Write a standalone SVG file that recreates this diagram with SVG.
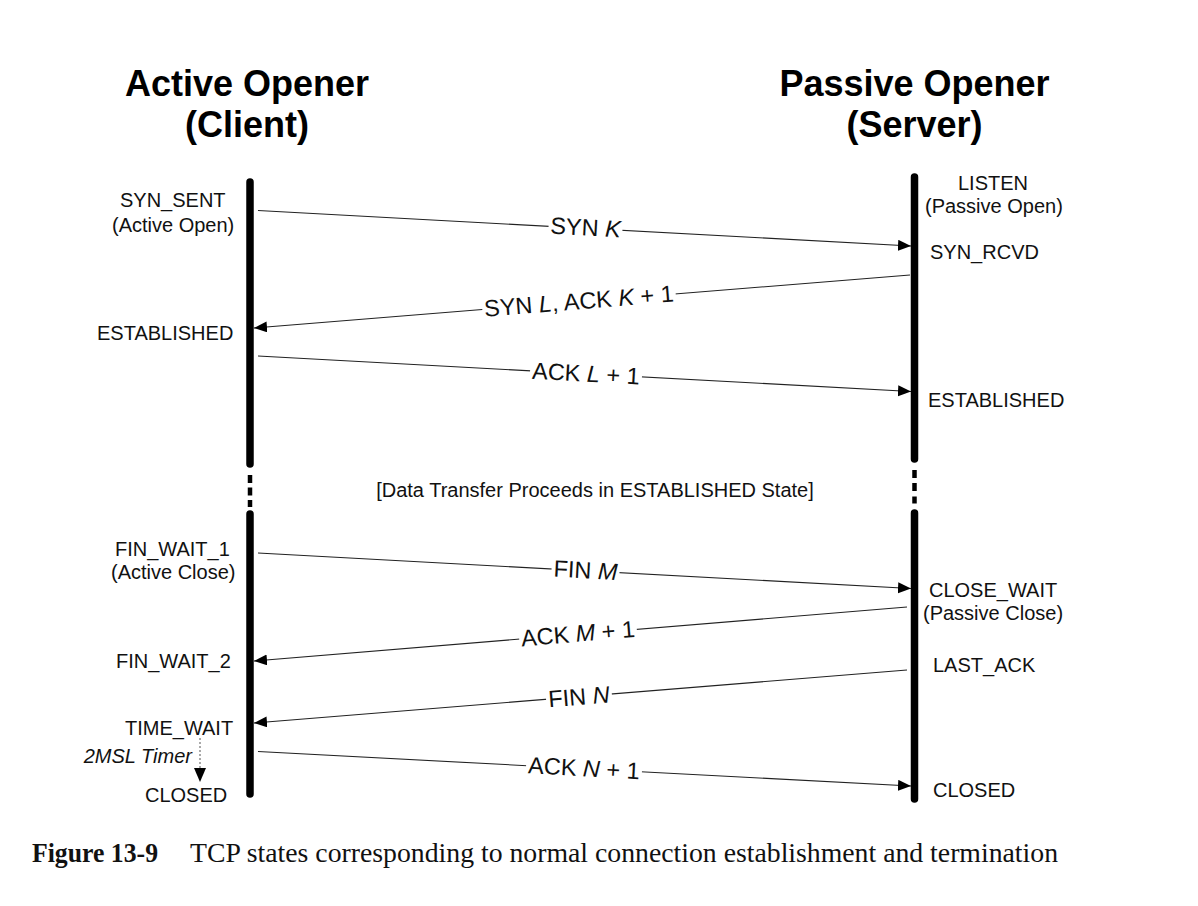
<svg xmlns="http://www.w3.org/2000/svg" width="1198" height="906" viewBox="0 0 1198 906">
  <defs>
    <style>
      .head { font-family: "Liberation Sans", Arial, sans-serif; font-weight: bold; font-size: 36px; fill: #000; text-anchor: middle; }
      .state { font-family: "Liberation Sans", Arial, sans-serif; font-size: 20px; fill: #111; }
      .msg { font-family: "Liberation Sans", Arial, sans-serif; font-size: 23.5px; fill: #111; text-anchor: middle; }
      .it { font-style: italic; }
      .life { stroke: #000; stroke-width: 7.5; stroke-linecap: round; fill: none; }
      .dots { stroke: #000; stroke-width: 4.5; fill: none; }
      .conn { stroke: #222; stroke-width: 1.1; fill: none; marker-end: url(#arrow); }
      .bg { fill: #fff; }
      .cap { font-family: "Liberation Serif", "Times New Roman", serif; font-size: 28px; fill: #111; }
    </style>
    <marker id="arrow" markerUnits="userSpaceOnUse" markerWidth="14" markerHeight="12" refX="13" refY="5.5" orient="auto">
      <path d="M0,0 L13,5.5 L0,11 Z" fill="#000"/>
    </marker>
  </defs>
  <rect width="1198" height="906" fill="#fff"/>

  <g id="client-header">
    <text class="head" x="247" y="96">Active Opener</text>
    <text class="head" x="247" y="137">(Client)</text>
  </g>
  <g id="server-header">
    <text class="head" x="914.5" y="96">Passive Opener</text>
    <text class="head" x="914.5" y="137">(Server)</text>
  </g>

  <g id="client-lifeline">
    <line class="life" x1="250" y1="182" x2="250" y2="464"/>
    <line class="dots" x1="250" y1="475" x2="250" y2="483"/>
    <line class="dots" x1="250" y1="487.5" x2="250" y2="495.5"/>
    <line class="dots" x1="250" y1="500" x2="250" y2="507"/>
    <line class="life" x1="250" y1="514" x2="250" y2="794"/>
  </g>
  <g id="server-lifeline">
    <line class="life" x1="914.5" y1="177" x2="914.5" y2="459"/>
    <line class="dots" x1="914.5" y1="470" x2="914.5" y2="478"/>
    <line class="dots" x1="914.5" y1="483" x2="914.5" y2="491"/>
    <line class="dots" x1="914.5" y1="496.5" x2="914.5" y2="503.5"/>
    <line class="life" x1="914.5" y1="513" x2="914.5" y2="799"/>
  </g>

  <g id="client-states">
    <g id="s-syn-sent"><text class="state" x="120" y="207">SYN_SENT</text><text class="state" x="112" y="232">(Active Open)</text></g>
    <g id="s-c-established"><text class="state" x="97" y="340">ESTABLISHED</text></g>
    <g id="s-fin-wait-1"><text class="state" x="115" y="556">FIN_WAIT_1</text><text class="state" x="111" y="579">(Active Close)</text></g>
    <g id="s-fin-wait-2"><text class="state" x="116" y="668">FIN_WAIT_2</text></g>
    <g id="s-time-wait"><text class="state" x="125" y="735">TIME_WAIT</text></g>
    <g id="s-c-closed"><text class="state" x="145" y="802">CLOSED</text></g>
  </g>
  <g id="server-states">
    <g id="s-listen"><text class="state" x="958" y="190">LISTEN</text><text class="state" x="925" y="213">(Passive Open)</text></g>
    <g id="s-syn-rcvd"><text class="state" x="930" y="259">SYN_RCVD</text></g>
    <g id="s-s-established"><text class="state" x="928" y="407">ESTABLISHED</text></g>
    <g id="s-close-wait"><text class="state" x="929" y="597">CLOSE_WAIT</text><text class="state" x="923" y="620">(Passive Close)</text></g>
    <g id="s-last-ack"><text class="state" x="933" y="672">LAST_ACK</text></g>
    <g id="s-s-closed"><text class="state" x="933" y="797">CLOSED</text></g>
  </g>

  <g id="data-transfer-note">
    <text class="state" x="595" y="497" text-anchor="middle">[Data Transfer Proceeds in ESTABLISHED State]</text>
  </g>

  <g id="connectors">
    <line class="conn" x1="258" y1="210.5" x2="911" y2="246"/>
    <line class="conn" x1="910" y1="275" x2="254" y2="328"/>
    <line class="conn" x1="258" y1="356" x2="911" y2="391.5"/>
    <line class="conn" x1="258" y1="553" x2="911" y2="588.5"/>
    <line class="conn" x1="907" y1="607" x2="254" y2="661"/>
    <line class="conn" x1="907" y1="670" x2="254" y2="723"/>
    <line class="conn" x1="258" y1="751.5" x2="911" y2="786"/>

    <g transform="translate(585.5,228) rotate(3.06)">
      <rect class="bg" x="-37" y="-11" width="74" height="22"/>
      <text class="msg" y="7.5">SYN <tspan class="it">K</tspan></text>
    </g>
    <g transform="translate(579,301.7) rotate(-4.61)">
      <rect class="bg" x="-97" y="-11" width="194" height="22"/>
      <text class="msg" y="7.5">SYN <tspan class="it">L</tspan>, ACK <tspan class="it">K</tspan> + 1</text>
    </g>
    <g transform="translate(586,374.1) rotate(3.15)">
      <rect class="bg" x="-56" y="-11" width="112" height="22"/>
      <text class="msg" y="7.5">ACK <tspan class="it">L</tspan> + 1</text>
    </g>
    <g transform="translate(585.5,570.8) rotate(3.11)">
      <rect class="bg" x="-34" y="-11" width="68" height="22"/>
      <text class="msg" y="7.5">FIN <tspan class="it">M</tspan></text>
    </g>
    <g transform="translate(578,634.2) rotate(-4.74)">
      <rect class="bg" x="-59" y="-11" width="118" height="22"/>
      <text class="msg" y="7.5">ACK <tspan class="it">M</tspan> + 1</text>
    </g>
    <g transform="translate(579,697.4) rotate(-4.65)">
      <rect class="bg" x="-33" y="-11" width="66" height="22"/>
      <text class="msg" y="7.5">FIN <tspan class="it">N</tspan></text>
    </g>
    <g transform="translate(584,768.7) rotate(3.02)">
      <rect class="bg" x="-58" y="-11" width="116" height="22"/>
      <text class="msg" y="7.5">ACK <tspan class="it">N</tspan> + 1</text>
    </g>

    <g id="timer">
      <line x1="200" y1="738" x2="200" y2="769" stroke="#555" stroke-width="1" stroke-dasharray="2,2"/>
      <path d="M194,768 L206,768 L200,782 Z" fill="#000"/>
      <text class="state it" x="192" y="763" text-anchor="end" font-size="19">2MSL Timer</text>
    </g>
  </g>

  <g id="caption">
    <text class="cap" x="32" y="862" font-weight="bold" textLength="126" lengthAdjust="spacingAndGlyphs">Figure 13-9</text>
    <text class="cap" x="190" y="862" textLength="868" lengthAdjust="spacingAndGlyphs">TCP states corresponding to normal connection establishment and termination</text>
  </g>
</svg>
